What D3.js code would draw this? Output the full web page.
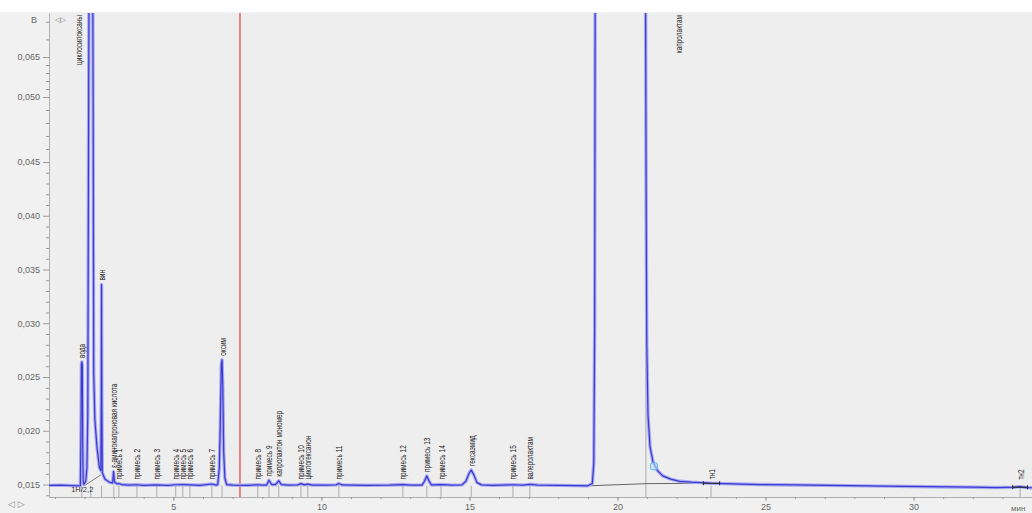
<!DOCTYPE html>
<html>
<head>
<meta charset="utf-8">
<script src="https://cdn.jsdelivr.net/npm/d3@7"></script>
<style>
  body { margin: 0; background: #f1f1f1; }
  svg { display: block; }
</style>
</head>
<body>
<svg id="chart" width="1032" height="513"></svg>
<script>
// chromatogram trace, [time (min), signal (V)]
const trace = [
  [0.80, 0.01492], [1.20, 0.01494], [1.50, 0.01491], [1.75, 0.01488], [1.86, 0.01490],
  [1.88, 0.0200], [1.895, 0.0262], [1.91, 0.0264], [1.925, 0.0261], [1.94, 0.0185], [1.955, 0.0153], [1.98, 0.0150],
  [2.04, 0.0153], [2.08, 0.0165], [2.11, 0.0215], [2.14, 0.0500], [2.16, 0.0900], [2.27, 0.0900], [2.29, 0.0500],
  [2.31, 0.0254], [2.35, 0.0210], [2.42, 0.0185], [2.50, 0.0166], [2.55, 0.0163], [2.565, 0.0230], [2.575, 0.0336],
  [2.585, 0.0230], [2.60, 0.0161], [2.69, 0.0155], [2.85, 0.0152], [2.95, 0.01515], [2.98, 0.0162], [3.01, 0.01525],
  [3.10, 0.01505], [3.16, 0.01510], [3.25, 0.01500], [3.50, 0.01495], [3.77, 0.01498], [4.00, 0.01493], [4.44, 0.01497],
  [4.80, 0.01492], [5.08, 0.01498], [5.32, 0.01500], [5.56, 0.01497], [5.90, 0.01493], [6.30, 0.01505], [6.45, 0.01495],
  [6.50, 0.01500], [6.55, 0.0165], [6.58, 0.0200], [6.62, 0.0262], [6.645, 0.0266], [6.67, 0.0240], [6.70, 0.0180],
  [6.74, 0.0156], [6.80, 0.01500], [7.00, 0.01495], [7.50, 0.01493], [7.85, 0.01498], [8.00, 0.01494], [8.15, 0.01495],
  [8.23, 0.0154], [8.32, 0.01500], [8.45, 0.01500], [8.56, 0.01535], [8.65, 0.01500], [8.90, 0.01494], [9.20, 0.01497],
  [9.31, 0.01508], [9.42, 0.01497], [9.54, 0.01503], [9.70, 0.01495], [10.20, 0.01494], [10.50, 0.01497], [10.59, 0.01510],
  [10.70, 0.01496], [11.50, 0.01493], [12.30, 0.01495], [12.75, 0.01500], [13.00, 0.01494], [13.40, 0.01495], [13.48, 0.0153],
  [13.56, 0.0158], [13.64, 0.0153], [13.72, 0.01496], [14.04, 0.01500], [14.40, 0.01494], [14.75, 0.01497], [14.88, 0.0153],
  [14.98, 0.0160], [15.06, 0.01635], [15.15, 0.0159], [15.25, 0.0152], [15.40, 0.01497], [15.80, 0.01493], [16.47, 0.01498],
  [16.80, 0.01494], [17.04, 0.01502], [17.30, 0.01495], [18.00, 0.01492], [18.60, 0.01490], [19.00, 0.01488], [19.15, 0.0151],
  [19.20, 0.0170], [19.23, 0.0300], [19.25, 0.0900], [20.94, 0.0900], [20.97, 0.0400], [20.99, 0.0280], [21.03, 0.0215],
  [21.10, 0.0185], [21.20, 0.0171], [21.35, 0.0163], [21.53, 0.0158], [21.80, 0.0155], [22.10, 0.0153], [22.50, 0.01522],
  [22.80, 0.01518], [23.16, 0.01512], [23.60, 0.01508], [24.80, 0.01500], [26.00, 0.01496], [27.80, 0.01490], [29.00, 0.01485],
  [30.50, 0.01480], [32.00, 0.01475], [32.80, 0.01472], [33.40, 0.01475], [33.60, 0.01480], [33.80, 0.01472], [34.00, 0.01470]
]

// named peaks
const peakNames = ['вода', 'циклосилоксаны', 'вин', 'ε-аминокапроновая кислота', 'примесь 1', 'примесь 2', 'примесь 3',
  'примесь 4', 'примесь 5', 'примесь 6', 'примесь 7', 'оксим', 'примесь 8', 'примесь 9', 'капролактон мономер',
  'примесь 10', 'циклогексанон', 'примесь 11', 'примесь 12', 'примесь 13', 'примесь 14', 'гексаэмид', 'примесь 15',
  'валеролактам', 'капролактам', 'тн1', 'тн2']
const peakTimes = [1.91, 2.21, 2.575, 2.99, 3.16, 3.77, 4.44, 5.08, 5.32, 5.56, 6.30, 6.645, 7.85, 8.23, 8.56,
  9.31, 9.54, 10.59, 12.75, 13.56, 14.04, 15.06, 16.47, 17.04, 20.96, 23.16, 33.60]
// where the name is printed (differs from the peak only for off-scale peaks)
const labelTimes = [1.91, 1.78, 2.575, 2.99, 3.16, 3.77, 4.44, 5.08, 5.32, 5.56, 6.30, 6.645, 7.85, 8.23, 8.56,
  9.31, 9.54, 10.59, 12.75, 13.56, 14.04, 15.06, 16.47, 17.04, 22.05, 23.16, 33.60]

// integration baselines drawn under the peaks
const baselineA = [[2.00, 0.01490], [2.55, 0.01590]]
const baselineB = [[19.00, 0.01488], [20.96, 0.01508], [23.20, 0.01512]]
const integrationMarks = [[22.90, 23.45, 0.01512], [33.35, 33.85, 0.01475]]

const markerTime = 7.25
const cyanMark = [21.23, 0.0167]

const yTicks = [0.015, 0.020, 0.025, 0.030, 0.035, 0.040, 0.045, 0.050, 0.065]
const yMinor = [0.014, 0.016, 0.017, 0.018, 0.019, 0.021, 0.022, 0.023, 0.024, 0.026, 0.027, 0.028, 0.029,
  0.031, 0.032, 0.033, 0.034, 0.036, 0.037, 0.038, 0.039, 0.041, 0.042, 0.043, 0.044, 0.046, 0.047, 0.048, 0.049,
  0.053, 0.056, 0.059, 0.062, 0.068, 0.071]
const xTicks = [5, 10, 15, 20, 25, 30]

const plotLeft = 49, plotRight = 1032, plotTop = 13, plotBottom = 497
const svg = d3.select('#chart')

const x = d3.scaleLinear().domain([0.8, 34]).range([plotLeft, plotRight])
// the printed axis is not evenly spaced above 0,045, so the scale follows the printed ticks
const y = d3.scaleLinear().domain([0.01384, 0.045, 0.050, 0.065, 0.0725]).range([plotBottom, 162, 97, 57, plotTop])

svg.append('rect').attr('width', 1032).attr('height', 513).attr('fill', '#f1f1f1')
svg.append('rect').attr('width', 1032).attr('height', plotTop - 1).attr('fill', '#ffffff')
svg.append('rect').attr('x', plotLeft).attr('y', plotTop).attr('width', plotRight - plotLeft).attr('height', plotBottom - plotTop).attr('fill', '#eeeeee')

svg.append('defs').append('clipPath').attr('id', 'clip')
    .append('rect').attr('x', plotLeft).attr('y', plotTop).attr('width', plotRight - plotLeft).attr('height', plotBottom - plotTop)

const fmt = v => d3.format('.3f')(v).replace('.', ',')

// y axis
svg.append('g').attr('transform', `translate(${plotLeft},0)`)
    .call(d3.axisLeft(y).tickValues(yTicks).tickSize(6).tickSizeOuter(0).tickPadding(3).tickFormat(fmt))
svg.append('g').attr('transform', `translate(${plotLeft},0)`)
    .call(d3.axisLeft(y).tickValues(yMinor).tickSize(3).tickSizeOuter(0).tickFormat(''))
    .call(g => g.select('.domain').remove())

// x axis
svg.append('g').attr('transform', `translate(0,${plotBottom})`)
    .call(d3.axisBottom(x).tickValues(xTicks).tickSize(4).tickSizeOuter(0).tickPadding(3))
svg.append('g').attr('transform', `translate(0,${plotBottom})`)
    .call(d3.axisBottom(x).tickValues(d3.range(1, 35)).tickSize(2).tickSizeOuter(0).tickFormat(''))
    .call(g => g.select('.domain').remove())

svg.selectAll('.domain').attr('stroke', '#b0b0b0')
svg.selectAll('.tick line').attr('stroke', '#9a9a9a')
svg.selectAll('.tick text').attr('fill', '#666').style('font-family', 'Liberation Sans, Arial, sans-serif').style('font-size', '9px')

svg.append('text').attr('x', 1011).attr('y', 511).attr('fill', '#666')
    .style('font-family', 'Liberation Sans, Arial, sans-serif').style('font-size', '8px').text('мин')
svg.append('text').attr('x', 31).attr('y', 23).attr('fill', '#666')
    .style('font-family', 'Liberation Sans, Arial, sans-serif').style('font-size', '9px').text('В')
svg.append('text').attr('x', 55).attr('y', 22).attr('fill', '#777')
    .style('font-family', 'DejaVu Sans, sans-serif').style('font-size', '7px').text('◁▷')
svg.append('text').attr('x', 8).attr('y', 507).attr('fill', '#888')
    .style('font-family', 'DejaVu Sans, sans-serif').style('font-size', '9px').text('◁ ▷')

const plot = svg.append('g').attr('clip-path', 'url(#clip)')

// red time marker
plot.append('line')
    .attr('x1', x(markerTime)).attr('x2', x(markerTime)).attr('y1', plotTop).attr('y2', plotBottom)
    .attr('stroke', '#e86a6a').attr('stroke-width', 1.6)

// peak marker ticks below the baseline
plot.append('g').selectAll('line')
    .data(peakTimes)
    .enter()
    .append('line')
    .attr('x1', d => x(d)).attr('x2', d => x(d))
    .attr('y1', d => d === 20.96 ? plotTop : y(0.0149))
    .attr('y2', plotBottom)
    .attr('stroke', '#9c9c9c').attr('stroke-width', 0.8)

const line = d3.line().x(d => x(d[0])).y(d => y(d[1]))

plot.append('path').datum(baselineA).attr('fill', 'none').attr('stroke', '#666').attr('stroke-width', 0.8).attr('d', line)
plot.append('path').datum(baselineB).attr('fill', 'none').attr('stroke', '#555').attr('stroke-width', 0.9).attr('d', line)

// trace: soft halo then the line
plot.append('path').datum(trace)
    .attr('fill', 'none').attr('stroke', '#a9a9f2').attr('stroke-width', 3.4).attr('stroke-linejoin', 'round')
    .attr('d', line)
plot.append('path').datum(trace)
    .attr('fill', 'none').attr('stroke', '#3a3ad0').attr('stroke-width', 1.2).attr('stroke-linejoin', 'round')
    .attr('d', line)

// integration marks
plot.append('g').selectAll('path')
    .data(integrationMarks)
    .enter()
    .append('path')
    .attr('d', d => `M${x(d[0])},${y(d[2]) - 2}v4M${x(d[0])},${y(d[2])}H${x(d[1])}M${x(d[1])},${y(d[2]) - 2}v4`)
    .attr('stroke', '#222').attr('stroke-width', 1).attr('fill', 'none')

plot.append('rect')
    .attr('x', x(cyanMark[0]) - 3.5).attr('y', y(cyanMark[1]) - 3.5).attr('width', 7).attr('height', 7).attr('rx', 2)
    .attr('fill', '#bfe6f7').attr('fill-opacity', 0.6).attr('stroke', '#58b8e6').attr('stroke-width', 1)

// peak names
const peakTop = t => d3.max(trace.filter(p => Math.abs(p[0] - t) < 0.07), p => p[1]) || 0.0149
const labels = peakNames.map((name, i) => ({name, t: labelTimes[i], v: peakTop(peakTimes[i])}))

svg.append('g').selectAll('text')
    .data(labels)
    .enter()
    .append('text')
    .attr('transform', d => {
        const offscale = d.v > 0.0725
        const yy = offscale ? plotTop + 2 : Math.min(y(d.v) - 4, y(0.0149) - 6)
        return `translate(${x(d.t) + 3.5},${yy}) rotate(-90) scale(0.66,1)`
    })
    .attr('text-anchor', d => d.v > 0.0725 ? 'end' : 'start')
    .attr('fill', '#222')
    .style('font-family', 'Liberation Sans, Arial, sans-serif')
    .style('font-size', '9.8px')
    .text(d => d.name)

svg.append('text').attr('x', x(1.55)).attr('y', 492).attr('fill', '#333')
    .style('font-family', 'Liberation Sans, Arial, sans-serif').style('font-size', '7.5px').text('1Н/2,2')
</script>
</body>
</html>
